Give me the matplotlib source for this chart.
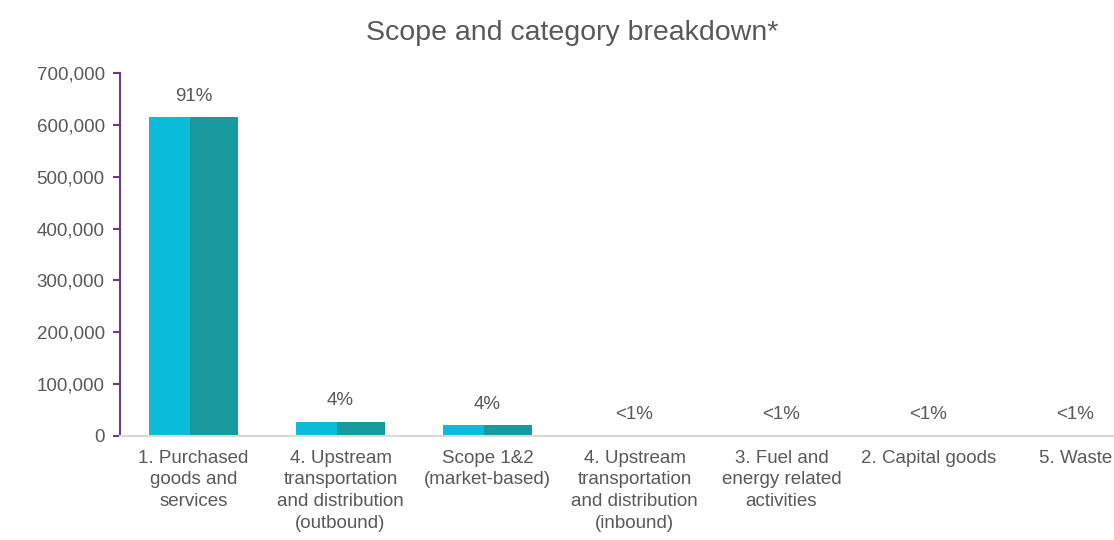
import numpy as np
import matplotlib.pyplot as plt
from matplotlib.ticker import FuncFormatter

plt.rcParams['font.family'] = ['Liberation Sans', 'DejaVu Sans']

# Emissions per category (tCO2e) and their share labels
categories = [
    '1. Purchased\ngoods and\nservices',
    '4. Upstream\ntransportation\nand distribution\n(outbound)',
    'Scope 1&2\n(market-based)',
    '4. Upstream\ntransportation\nand distribution\n(inbound)',
    '3. Fuel and\nenergy related\nactivities',
    '2. Capital goods',
    '5. Waste',
]
emissions = [615000, 27000, 21000, 900, 600, 300, 100]
shares = ['91%', '4%', '4%', '<1%', '<1%', '<1%', '<1%']

light = '#0BBBDA'
dark = '#18999D'
grey = '#595959'
purple = '#6A3D7E'

fig = plt.figure(figsize=(11.14, 5.4), dpi=100)
ax = fig.add_axes([120 / 1114, 104 / 540, 1029 / 1114, 363 / 540])

x = np.arange(len(categories))
split = -0.027
ax.bar(x - 0.3, emissions, width=0.3 + split, align='edge', color=light)
ax.bar(x + split, emissions, width=0.3 - split, align='edge', color=dark)

for xi, v, s in zip(x, emissions, shares):
    ax.annotate(s, (xi, v), xytext=(0, 9), textcoords='offset points',
                ha='center', va='bottom', fontsize=13.5, color=grey)

ax.set_xlim(-0.5, len(categories) - 0.5)
ax.set_ylim(0, 700000)
ax.set_yticks(np.arange(0, 700001, 100000))
ax.yaxis.set_major_formatter(FuncFormatter(lambda v, p: f'{int(v):,}'))
ax.set_xticks(x)
ax.set_xticklabels(categories, fontsize=13.5, color=grey, linespacing=1.35)

ax.tick_params(axis='x', length=0, pad=10)
ax.tick_params(axis='y', direction='out', length=5, width=1.5, color=purple,
               labelsize=13.5, labelcolor=grey, pad=6)

for side in ['top', 'right']:
    ax.spines[side].set_visible(False)
ax.spines['left'].set_color(purple)
ax.spines['left'].set_linewidth(1.5)
ax.spines['bottom'].set_color('#D9D9D9')
ax.spines['bottom'].set_linewidth(1.5)

fig.text(572 / 1114, 1 - 33 / 540, 'Scope and category breakdown*',
         ha='center', va='center', fontsize=20.5, color=grey)

fig.savefig('out.png', dpi=100)
